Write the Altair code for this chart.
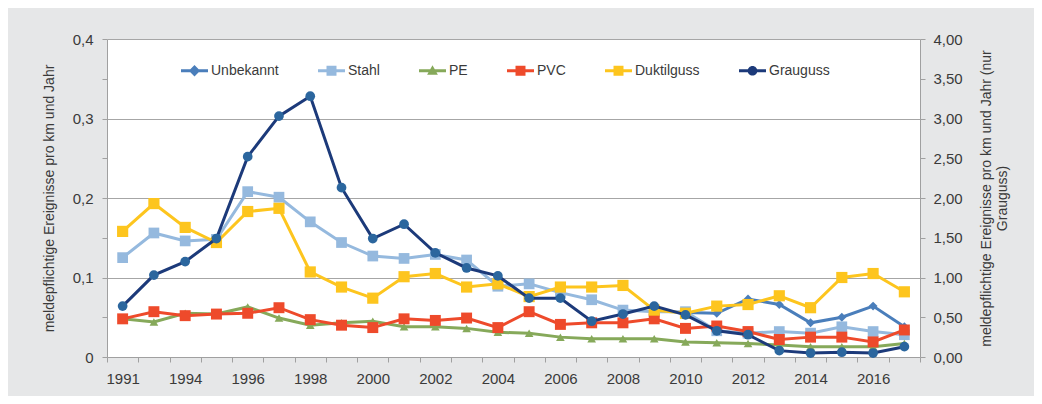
import altair as alt
import pandas as pd

years = ["1991", "1993", "1994", "1995", "1996", "1997", "1998", "1999", "2000",
         "2001", "2002", "2003", "2004", "2005", "2006", "2007", "2008", "2009",
         "2010", "2011", "2012", "2013", "2014", "2015", "2016", "2017"]

series_names = ["Unbekannt", "Stahl", "PE", "PVC", "Duktilguss", "Grauguss"]

unbekannt = [None] * 18 + [0.056, 0.055, 0.073, 0.066, 0.043, 0.050, 0.064, 0.038]
stahl = [0.125, 0.156, 0.146, 0.148, 0.208, 0.201, 0.170, 0.144, 0.127, 0.124, 0.129, 0.122, 0.089,
         0.092, 0.081, 0.072, 0.059, 0.057, 0.057, 0.033, 0.030, 0.032, 0.030, 0.038, 0.032, 0.028]
pe = [0.048, 0.044, 0.055, 0.054, 0.063, 0.049, 0.040, 0.043, 0.045, 0.038, 0.038, 0.036, 0.031,
      0.030, 0.025, 0.023, 0.023, 0.023, 0.019, 0.018, 0.017, 0.015, 0.013, 0.013, 0.013, 0.017]
pvc = [0.048, 0.057, 0.052, 0.054, 0.055, 0.062, 0.047, 0.040, 0.037, 0.048, 0.046, 0.049, 0.037,
       0.057, 0.041, 0.043, 0.043, 0.048, 0.036, 0.039, 0.032, 0.022, 0.025, 0.025, 0.019, 0.034]
duktilguss = [0.158, 0.193, 0.163, 0.144, 0.183, 0.187, 0.107, 0.088, 0.074, 0.101, 0.105, 0.088, 0.092,
              0.076, 0.088, 0.088, 0.090, 0.059, 0.055, 0.064, 0.066, 0.077, 0.062, 0.100, 0.105, 0.082]
# Grauguss on the secondary (right) axis
grauguss = [0.64, 1.03, 1.20, 1.49, 2.52, 3.03, 3.28, 2.13, 1.49, 1.67, 1.31, 1.12, 1.02,
            0.74, 0.74, 0.45, 0.54, 0.64, 0.53, 0.33, 0.28, 0.08, 0.05, 0.06, 0.05, 0.13]

line_colors = ["#4a7ebb", "#95b9de", "#86a95a", "#ee4a2b", "#fdc51e", "#1c3a7a"]
marker_colors = ["#4a7ebb", "#95b9de", "#86a95a", "#ee4a2b", "#fdc51e", "#2b669e"]
shapes = ["diamond", "square", "triangle-up", "square", "square", "circle"]
sizes = [80, 115, 75, 120, 125, 95]

FONT = "Liberation Sans Narrow, Arial Narrow, Liberation Sans, sans-serif"
TXT = "#3a3a3a"
AX = "#a0a0a0"

bar = "M-1,-0.11H1V0.11H-1Z "
legend_paths = [
    bar + "M0,-0.42L0.42,0L0,0.42L-0.42,0Z",
    bar + "M-0.37,-0.37H0.37V0.37H-0.37Z",
    bar + "M0,-0.4L0.4,0.3H-0.4Z",
    bar + "M-0.37,-0.37H0.37V0.37H-0.37Z",
    bar + "M-0.37,-0.37H0.37V0.37H-0.37Z",
    bar + "M0.36,0A0.36,0.36 0 1,1 -0.36,0A0.36,0.36 0 1,1 0.36,0Z",
]

X = alt.X(
    "year:O",
    scale=alt.Scale(type="band", domain=years, paddingInner=0, paddingOuter=0),
    bandPosition=0.5,
    title=None,
    axis=alt.Axis(
        tickBand="extent",
        labelExpr="(toNumber(datum.value) % 2 == 0 || datum.value == '1991') ? datum.label : ''",
        labelAngle=0, labelFontSize=15, labelFont=FONT, labelColor=TXT,
        tickColor=AX, tickSize=5, domainColor=AX, labelPadding=9, grid=False,
    ),
)

left_ticks = [0, 0.05, 0.1, 0.15, 0.2, 0.25, 0.3, 0.35, 0.4]
is_tenth = "abs(datum.value*10 - round(datum.value*10)) < 0.001"
YL = alt.Y(
    "value:Q",
    scale=alt.Scale(domain=[0, 0.4], nice=False, zero=True),
    title="meldepflichtige Ereignisse pro km und Jahr",
    axis=alt.Axis(
        orient="left", values=left_ticks,
        labelExpr=is_tenth + " ? (datum.value == 0 ? '0' : replace(format(datum.value, '.1f'), '.', ',')) : ''",
        grid=True, gridColor="#a6a6a6", gridWidth=1,
        gridOpacity={"condition": {"test": is_tenth + " && datum.value > 0", "value": 1}, "value": 0},
        labelFontSize=15, labelFont=FONT, labelColor=TXT, labelPadding=9,
        tickColor=AX, tickSize=5, domainColor=AX,
        titleFont=FONT, titleFontSize=14, titleFontWeight="normal", titleColor=TXT, titlePadding=16,
    ),
)

right_ticks = [0, 0.5, 1, 1.5, 2, 2.5, 3, 3.5, 4]
YR = alt.Y(
    "value:Q",
    scale=alt.Scale(domain=[0, 4], nice=False, zero=True),
    title=["meldepflichtige Ereignisse pro km und Jahr (nur", "Grauguss)"],
    axis=alt.Axis(
        orient="right", values=right_ticks,
        labelExpr="replace(format(datum.value, '.2f'), '.', ',')",
        grid=False,
        labelFontSize=15, labelFont=FONT, labelColor=TXT, labelPadding=8,
        tickColor=AX, tickSize=5, domainColor=AX,
        titleFont=FONT, titleFontSize=14, titleFontWeight="normal", titleColor=TXT,
        titleAngle=270, titlePadding=15,
    ),
)


def series_layers(values, y, i):
    df = pd.DataFrame({"year": years, "value": values}).dropna()
    base = alt.Chart(df).encode(x=X, y=y)
    line = base.mark_line(color=line_colors[i], strokeWidth=3)
    pts = base.mark_point(filled=True, opacity=1, color=marker_colors[i],
                          shape=shapes[i], size=sizes[i], strokeWidth=0)
    return [line, pts]


left_layers = []
for i, vals in enumerate([unbekannt, stahl, pe, pvc, duktilguss]):
    left_layers += series_layers(vals, YL, i)

legend = alt.Legend(
    orient="none", legendX=74, legendY=18, direction="horizontal", columns=6,
    columnPadding=39, symbolSize=729, symbolStrokeWidth=0, symbolOpacity=1,
    labelFontSize=14, labelFont=FONT, labelColor=TXT, labelOffset=3, title=None,
)
leg_df = pd.DataFrame({"series": series_names, "year": [years[0]] * 6, "value": [0.0] * 6})
legend_layer = alt.Chart(leg_df).mark_point(filled=True, opacity=0).encode(
    x=X, y=YL,
    color=alt.Color("series:N", scale=alt.Scale(domain=series_names, range=line_colors), legend=legend),
    shape=alt.Shape("series:N", scale=alt.Scale(domain=series_names, range=legend_paths), legend=legend),
)

left = alt.layer(*left_layers, legend_layer)
right = alt.layer(*series_layers(grauguss, YR, 5))

chart = alt.layer(left, right).resolve_scale(y="independent").properties(
    width=813, height=318,
    padding={"left": 99, "top": 31, "right": 114, "bottom": 39},
    autosize=alt.AutoSizeParams(type="none"),
    background="#e6e7e8",
).configure_view(fill="white", strokeWidth=0)

chart.save("out.html", embed_options={"renderer": "svg", "actions": False})
